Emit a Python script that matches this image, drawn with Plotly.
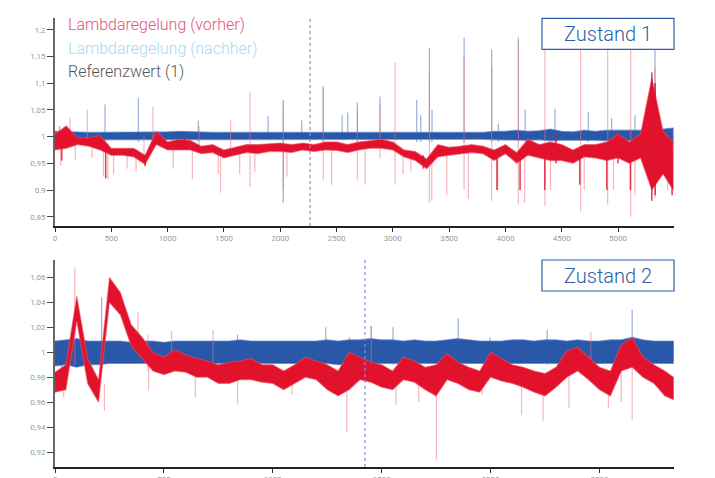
import plotly.graph_objects as go

# ---------------- DATA ----------------
# Panel 1 (Zustand 1): band envelopes sampled every 100 units
top_x = [0, 100, 200, 300, 400, 500, 600, 700, 800, 900, 1000, 1100, 1200, 1300, 1400, 1500,
         1600, 1700, 1800, 1900, 2000, 2100, 2200, 2300, 2400, 2500, 2600, 2700, 2800, 2900,
         3000, 3100, 3200, 3300, 3400, 3500, 3600, 3700, 3800, 3900, 4000, 4100, 4200, 4300,
         4400, 4500, 4600, 4700, 4800, 4900, 5000, 5100, 5200, 5300, 5400, 5490]
top_red_lo = [0.975, 0.978, 0.985, 0.982, 0.975, 0.965, 0.965, 0.962, 0.948, 0.985, 0.975, 0.975,
              0.975, 0.968, 0.970, 0.960, 0.965, 0.970, 0.968, 0.972, 0.972, 0.970, 0.975, 0.972,
              0.975, 0.974, 0.970, 0.975, 0.978, 0.978, 0.975, 0.962, 0.955, 0.940, 0.962, 0.965,
              0.968, 0.970, 0.968, 0.955, 0.968, 0.950, 0.965, 0.960, 0.955, 0.955, 0.950, 0.962,
              0.960, 0.955, 0.960, 0.950, 0.960, 0.900, 0.930, 0.900]
top_red_hi = [1.005, 1.020, 0.998, 0.998, 1.002, 0.978, 0.978, 0.978, 0.965, 1.010, 0.990, 0.995,
              0.993, 0.982, 0.985, 0.975, 0.980, 0.985, 0.985, 0.986, 0.988, 0.985, 0.988, 0.985,
              0.990, 0.990, 0.985, 0.990, 0.993, 0.995, 0.990, 0.975, 0.972, 0.958, 0.985, 0.980,
              0.982, 0.985, 0.982, 0.975, 0.985, 0.970, 0.995, 0.985, 0.990, 0.985, 0.975, 0.985,
              0.985, 0.990, 1.005, 0.990, 1.005, 1.110, 1.010, 0.990]
top_blue_lo = [0.993, 0.994, 0.995, 0.995, 0.995, 0.995, 0.995, 0.995, 0.995, 0.995, 0.995, 0.994,
               0.994, 0.995, 0.995, 0.995, 0.995, 0.995, 0.995, 0.995, 0.995, 0.995, 0.995, 0.995,
               0.995, 0.995, 0.995, 0.995, 0.995, 0.995, 0.995, 0.995, 0.995, 0.995, 0.995, 0.995,
               0.995, 0.995, 0.995, 0.994, 0.993, 0.993, 0.993, 0.994, 0.992, 0.993, 0.994, 0.993,
               0.993, 0.992, 0.993, 0.992, 0.993, 0.990, 0.990, 0.988]
top_blue_hi = [1.010, 1.009, 1.008, 1.008, 1.008, 1.008, 1.008, 1.008, 1.008, 1.008, 1.009, 1.010,
               1.009, 1.008, 1.008, 1.008, 1.008, 1.008, 1.008, 1.008, 1.008, 1.008, 1.008, 1.008,
               1.009, 1.008, 1.009, 1.008, 1.009, 1.008, 1.008, 1.008, 1.009, 1.009, 1.008, 1.008,
               1.008, 1.008, 1.008, 1.010, 1.010, 1.012, 1.010, 1.011, 1.014, 1.010, 1.009, 1.012,
               1.010, 1.012, 1.012, 1.013, 1.012, 1.015, 1.014, 1.016]

# spikes (position, lower end, upper end)
top_pink_x = [50, 133, 180, 287, 330, 430, 470, 520, 640, 720, 790, 870, 1050, 1220, 1280, 1450,
              1470, 1560, 1640, 1732, 1775, 2027, 2060, 2382, 2457, 2685, 2754, 2886, 3020, 3091,
              3160, 3325, 3346, 3479, 3633, 3671, 3878, 3930, 4115, 4170, 4351, 4400, 4668, 4700,
              4908, 4960, 5112, 5150, 5328, 5440]
top_pink_lo = [0.945, 0.990, 0.955, 0.990, 0.960, 0.925, 0.920, 0.930, 0.940, 0.935, 0.960, 0.985,
               0.940, 0.920, 0.970, 0.930, 0.895, 0.975, 0.930, 0.906, 0.934, 0.900, 0.925, 0.919,
               0.910, 0.919, 0.910, 0.960, 0.910, 0.930, 0.935, 0.876, 0.880, 0.890, 0.900, 0.883,
               0.880, 0.900, 0.873, 0.876, 0.870, 0.900, 0.860, 0.900, 0.873, 0.900, 0.850, 0.890,
               0.885, 0.900]
top_pink_hi = [0.990, 1.035, 0.990, 1.050, 0.990, 0.975, 0.970, 0.970, 0.970, 0.965, 1.000, 1.056,
               0.975, 0.975, 1.020, 0.970, 0.960, 1.030, 0.975, 1.084, 0.975, 1.060, 0.970, 1.090,
               0.975, 1.050, 0.975, 1.060, 1.138, 0.970, 0.970, 1.120, 0.960, 0.965, 1.150, 0.970,
               1.130, 0.970, 1.180, 0.960, 1.163, 0.960, 1.163, 0.960, 1.163, 0.960, 1.163, 0.960,
               1.130, 0.980]
top_bspk_x = [40, 444, 740, 1273, 1893, 2027, 2191, 2382, 2550, 2600, 2685, 2886, 3212, 3248, 3325,
              3348, 3633, 3878, 3937, 4115, 4175, 4440, 4736, 4943, 5150, 5328]
top_bspk_lo = [0.990, 0.990, 0.990, 0.990, 0.995, 0.876, 0.995, 0.990, 0.995, 0.995, 0.990, 0.990,
               0.990, 0.990, 0.990, 0.990, 0.990, 0.990, 0.990, 0.990, 0.990, 0.990, 0.990, 0.990,
               0.990, 0.990]
top_bspk_hi = [1.020, 1.060, 1.072, 1.030, 1.038, 1.069, 1.030, 1.094, 1.040, 1.045, 1.064, 1.075,
               1.069, 1.040, 1.166, 1.050, 1.185, 1.163, 1.024, 1.185, 1.050, 1.052, 1.046, 1.035,
               1.040, 1.163]
top_dark_x = [60, 450, 800, 1150, 3271, 3925, 4130, 4350, 4450, 4660, 4900, 5000, 5110, 5230,
              5300, 5330, 5480]
top_dark_lo = [0.955, 0.922, 0.945, 0.978, 0.940, 0.900, 0.900, 0.900, 0.950, 0.910, 0.900, 0.950,
               0.900, 0.950, 0.880, 0.890, 0.890]
top_dark_hi = [0.990, 0.970, 0.965, 0.998, 0.965, 0.975, 0.970, 0.975, 1.000, 0.970, 0.975, 1.010,
               0.975, 1.010, 1.120, 1.100, 0.960]

# Panel 2 (Zustand 2): band envelopes sampled every 50 units
bot_x = [0, 50, 100, 150, 200, 250, 300, 350, 400, 450, 500, 550, 600, 650, 700, 750, 800, 850,
         900, 950, 1000, 1050, 1100, 1150, 1200, 1250, 1300, 1350, 1400, 1450, 1500, 1550, 1600,
         1650, 1700, 1750, 1800, 1850, 1900, 1950, 2000, 2050, 2100, 2150, 2200, 2250, 2300, 2350,
         2400, 2450, 2500, 2550, 2600, 2650, 2700, 2750, 2800, 2840]
bot_red_lo = [0.968, 0.970, 1.025, 0.975, 0.960, 1.040, 1.030, 1.005, 0.995, 0.985, 0.982, 0.985,
              0.984, 0.980, 0.980, 0.975, 0.975, 0.978, 0.978, 0.976, 0.975, 0.970, 0.975, 0.980,
              0.978, 0.970, 0.965, 0.970, 0.978, 0.976, 0.972, 0.970, 0.978, 0.976, 0.970, 0.965,
              0.978, 0.975, 0.970, 0.968, 0.980, 0.977, 0.975, 0.972, 0.968, 0.965, 0.972, 0.980,
              0.985, 0.978, 0.970, 0.965, 0.985, 0.988, 0.980, 0.975, 0.965, 0.962]
bot_red_hi = [0.984, 0.990, 1.045, 0.995, 0.978, 1.060, 1.048, 1.022, 1.012, 1.000, 0.996, 1.002,
              0.998, 0.995, 0.993, 0.990, 0.992, 0.993, 0.995, 0.990, 0.990, 0.985, 0.990, 0.996,
              0.993, 0.990, 0.985, 1.000, 0.996, 0.992, 0.990, 0.985, 0.996, 0.993, 0.988, 0.990,
              0.999, 0.992, 0.988, 0.985, 1.000, 0.995, 0.990, 0.988, 0.985, 0.983, 0.988, 1.001,
              1.004, 0.996, 0.988, 0.985, 1.006, 1.012, 0.996, 0.990, 0.985, 0.980]
bot_blue_lo = [0.989, 0.990, 0.988, 0.990, 0.990, 0.991, 0.991, 0.991, 0.991, 0.991, 0.991, 0.991,
               0.991, 0.991, 0.991, 0.991, 0.991, 0.991, 0.991, 0.991, 0.991, 0.991, 0.991, 0.991,
               0.991, 0.991, 0.990, 0.990, 0.991, 0.991, 0.991, 0.991, 0.991, 0.991, 0.991, 0.991,
               0.991, 0.991, 0.991, 0.991, 0.991, 0.991, 0.991, 0.991, 0.991, 0.991, 0.991, 0.991,
               0.991, 0.991, 0.991, 0.991, 0.991, 0.990, 0.991, 0.991, 0.991, 0.991]
bot_blue_hi = [1.009, 1.010, 1.011, 1.009, 1.009, 1.009, 1.009, 1.008, 1.009, 1.009, 1.008, 1.009,
               1.009, 1.009, 1.009, 1.009, 1.009, 1.010, 1.009, 1.009, 1.009, 1.009, 1.009, 1.009,
               1.009, 1.010, 1.009, 1.010, 1.010, 1.011, 1.010, 1.010, 1.009, 1.010, 1.009, 1.009,
               1.010, 1.011, 1.010, 1.009, 1.009, 1.009, 1.010, 1.010, 1.009, 1.010, 1.010, 1.009,
               1.010, 1.009, 1.009, 1.010, 1.010, 1.012, 1.010, 1.009, 1.009, 1.009]
bot_pink_x = [40, 91, 227, 381, 427, 430, 535, 644, 726, 838, 1089, 1340, 1452, 1565, 1670, 1751,
              1960, 2142, 2241, 2360, 2460, 2541, 2600, 2650]
bot_pink_lo = [0.964, 0.990, 0.953, 1.000, 0.985, 0.970, 0.990, 0.964, 0.990, 0.959, 0.966, 0.936,
               0.990, 0.958, 0.960, 0.914, 0.966, 0.950, 0.945, 0.955, 0.990, 0.955, 0.960, 0.945]
bot_pink_hi = [0.985, 1.068, 0.975, 1.032, 1.014, 0.990, 1.017, 0.985, 1.018, 0.980, 0.980, 0.975,
               1.021, 0.980, 0.980, 0.975, 0.985, 0.975, 0.975, 0.980, 1.016, 0.980, 0.985, 0.990]
bot_bspk_x = [30, 214, 838, 1243, 1340, 1352, 1452, 1552, 1851, 1997, 2260, 2650]
bot_bspk_lo = [0.975, 0.990, 0.990, 0.990, 0.985, 0.990, 0.990, 0.990, 0.990, 0.990, 0.990, 0.990]
bot_bspk_hi = [1.005, 1.044, 1.014, 1.020, 1.000, 1.012, 1.021, 1.020, 1.027, 1.012, 1.018, 1.034]

top_marker_x = 2265
bot_marker_x = 1423

top_xticks = [0, 500, 1000, 1500, 2000, 2500, 3000, 3500, 4000, 4500, 5000]
bot_xticks = [0, 500, 1000, 1500, 2000, 2500]
top_yticks = [0.85, 0.9, 0.95, 1.0, 1.05, 1.1, 1.15, 1.2]
top_ylabels = ["0,85", "0,9", "0,95", "1", "1,05", "1,1", "1,15", "1,2"]
bot_yticks = [0.92, 0.94, 0.96, 0.98, 1.0, 1.02, 1.04, 1.06]
bot_ylabels = ["0,92", "0,94", "0,96", "0,98", "1", "1,02", "1,04", "1,06"]

legend_names = ["Lambdaregelung (vorher)", "Lambdaregelung (nachher)", "Referenzwert (1)"]
panel_titles = ["Zustand 1", "Zustand 2"]

# ---------------- STYLE ----------------
RED = "rgb(226,18,44)"
RED_EDGE = "rgba(236,80,100,0.55)"
PINK = "rgba(236,110,125,0.5)"
BLUE = "rgb(42,88,168)"
BLUE_EDGE = "rgba(90,130,200,0.6)"
LBLUE = "rgba(70,110,190,0.55)"
TITLE_BLUE = "#2f5ea8"
FONT = "Roboto"


def segs(xs, lo, hi):
    sx, sy = [], []
    for a, b, c in zip(xs, lo, hi):
        sx += [a, a, None]
        sy += [b, c, None]
    return sx, sy


def band(xs, lo, hi):
    return list(xs) + list(xs[::-1]), list(hi) + list(lo[::-1])


fig = go.Figure()

panels = [
    ("x", "y", top_x, top_red_lo, top_red_hi, top_blue_lo, top_blue_hi,
     (top_pink_x, top_pink_lo, top_pink_hi), (top_bspk_x, top_bspk_lo, top_bspk_hi),
     (top_dark_x, top_dark_lo, top_dark_hi)),
    ("x2", "y2", bot_x, bot_red_lo, bot_red_hi, bot_blue_lo, bot_blue_hi,
     (bot_pink_x, bot_pink_lo, bot_pink_hi), (bot_bspk_x, bot_bspk_lo, bot_bspk_hi), None),
]

for xa, ya, xs, rlo, rhi, blo, bhi, pink, lblue, dark in panels:
    fig.add_trace(go.Scatter(x=[xs[0], xs[-1]], y=[1, 1], mode="lines", xaxis=xa, yaxis=ya,
                             line=dict(color="#777", width=1), showlegend=False, hoverinfo="skip"))
    sx, sy = segs(*lblue)
    fig.add_trace(go.Scatter(x=sx, y=sy, mode="lines", xaxis=xa, yaxis=ya,
                             line=dict(color=LBLUE, width=1.2), showlegend=False, hoverinfo="skip"))
    bx, by = band(xs, blo, bhi)
    fig.add_trace(go.Scatter(x=bx, y=by, mode="lines", fill="toself", fillcolor=BLUE,
                             xaxis=xa, yaxis=ya, line=dict(color=BLUE_EDGE, width=1.2),
                             showlegend=False, hoverinfo="skip"))
    sx, sy = segs(*pink)
    fig.add_trace(go.Scatter(x=sx, y=sy, mode="lines", xaxis=xa, yaxis=ya,
                             line=dict(color=PINK, width=1.2), showlegend=False, hoverinfo="skip"))
    rx, ry = band(xs, rlo, rhi)
    fig.add_trace(go.Scatter(x=rx, y=ry, mode="lines", fill="toself", fillcolor=RED,
                             xaxis=xa, yaxis=ya, line=dict(color=RED_EDGE, width=1.2),
                             showlegend=False, hoverinfo="skip"))
    if dark is not None:
        sx, sy = segs(*dark)
        fig.add_trace(go.Scatter(x=sx, y=sy, mode="lines", xaxis=xa, yaxis=ya,
                                 line=dict(color="rgba(220,20,45,0.8)", width=1.6),
                                 showlegend=False, hoverinfo="skip"))

# page is offset by the 8px body margin; work in page pixels and convert
OFF = 8
W, H = 715, 478
PL, PR = 55, 674          # plot area left/right in page pixels
L = PL - OFF
R = W - (PR - OFF)
PW = PR - PL


def px(v):
    return (v - PL) / PW


def py(v):
    return 1 - (v - OFF) / H


axis_common = dict(showgrid=False, zeroline=False, showline=True, ticks="outside",
                   automargin=False, tickfont=dict(family=FONT, size=8, color="#9a9a9a"))

fig.update_layout(
    width=W, height=H, template="none",
    margin=dict(l=L, r=R, t=0, b=0),
    paper_bgcolor="white", plot_bgcolor="white",
    font=dict(family=FONT),
    showlegend=False,
    xaxis=dict(domain=[0, 1], anchor="y", range=[0, 5497], tickvals=top_xticks,
               ticktext=[str(v) for v in top_xticks], linecolor="#222", linewidth=1.5,
               tickcolor="#333", ticklen=4, **axis_common),
    yaxis=dict(domain=[py(226), py(18)], anchor="x", range=[0.8326, 1.222],
               tickvals=top_yticks, ticktext=top_ylabels, linecolor="#666", linewidth=2,
               tickcolor="#444", ticklen=6, **axis_common),
    xaxis2=dict(domain=[0, 1], anchor="y2", range=[0, 2842], tickvals=bot_xticks,
                ticktext=[str(v) for v in bot_xticks], linecolor="#222", linewidth=1.5,
                tickcolor="#333", ticklen=4, **axis_common),
    yaxis2=dict(domain=[py(467), py(260)], anchor="x2", range=[0.908, 1.074],
                tickvals=bot_yticks, ticktext=bot_ylabels, linecolor="#666", linewidth=2,
                tickcolor="#444", ticklen=6, **axis_common),
)

fig.add_shape(type="line", xref="x", yref="y domain", x0=top_marker_x, x1=top_marker_x, y0=0, y1=1,
              line=dict(color="#8c8cd2", width=1.2, dash="dot"))
fig.add_shape(type="line", xref="x2", yref="y2 domain", x0=bot_marker_x, x1=bot_marker_x, y0=0, y1=1,
              line=dict(color="#8c8cd2", width=1.2, dash="dot"))

leg_colors = ["#e8507a", "#a6daf2", "#555555"]
leg_y = [25, 48, 71]
for name, c, yy in zip(legend_names, leg_colors, leg_y):
    fig.add_annotation(text=name, xref="paper", yref="paper", x=px(66), y=py(yy),
                       xanchor="left", yanchor="middle", showarrow=False,
                       font=dict(family=FONT, size=16, color=c, weight=300))

for title, (top, bot) in zip(panel_titles, [(18.3, 49.3), (260, 291)]):
    fig.add_shape(type="rect", xref="paper", yref="paper", x0=px(542), x1=px(674),
                  y0=py(bot), y1=py(top), line=dict(color=TITLE_BLUE, width=1.2),
                  fillcolor="white", layer="above")
    fig.add_annotation(text=title, xref="paper", yref="paper", x=px(608), y=py((top + bot) / 2),
                       xanchor="center", yanchor="middle", showarrow=False,
                       font=dict(family=FONT, size=20, color=TITLE_BLUE, weight=300))

fig.write_html("out.html")
